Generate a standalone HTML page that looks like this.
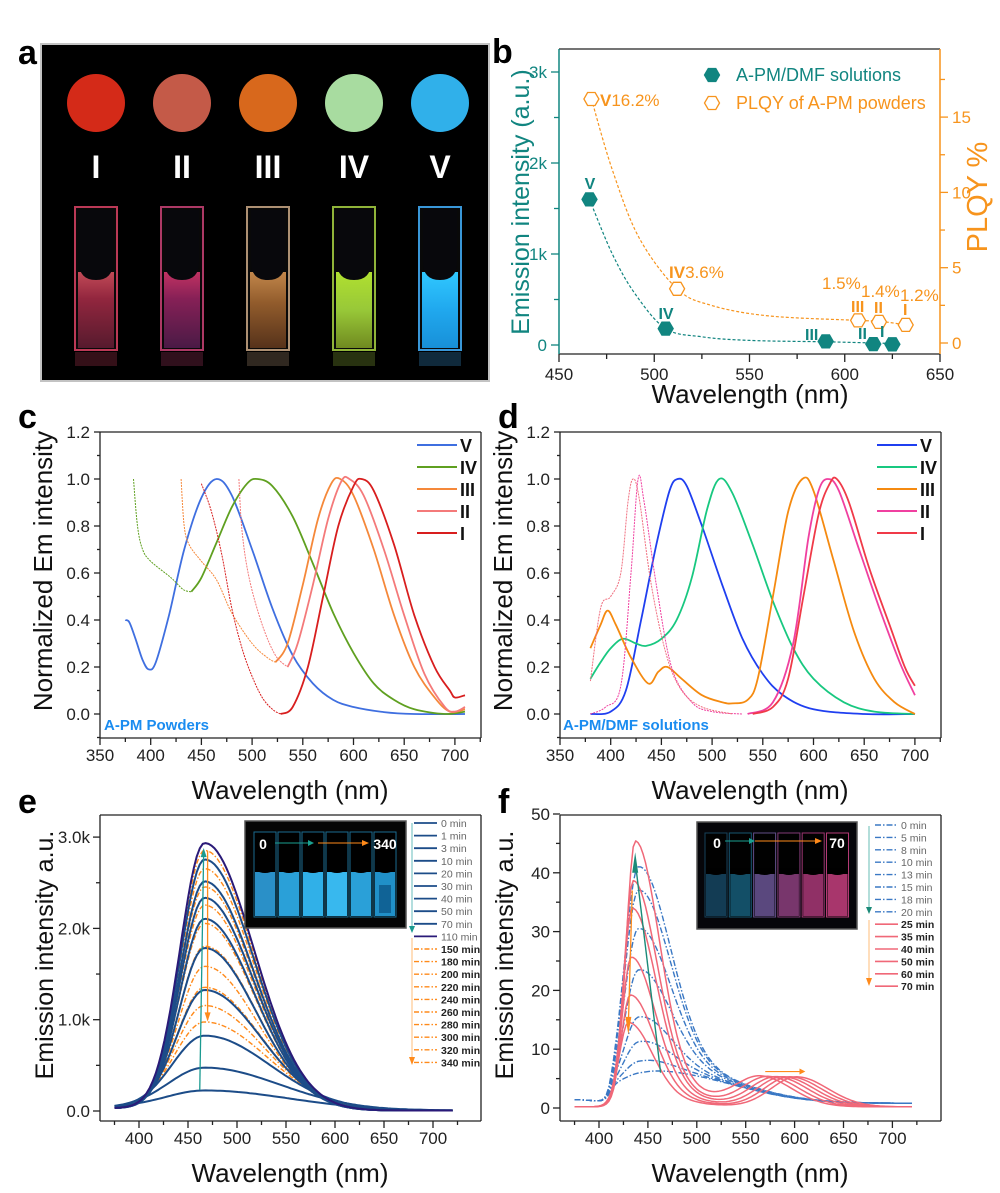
<!DOCTYPE html>
<html><head><meta charset="utf-8"><style>
html,body{margin:0;padding:0;background:#fff}
svg{display:block;font-family:"Liberation Sans",Arial,sans-serif}
</style></head><body>
<svg id="s" width="1000" height="1193" viewBox="0 0 1000 1193" xmlns="http://www.w3.org/2000/svg">
<defs>
<linearGradient id="gI" x1="0" y1="0" x2="0" y2="1"><stop offset="0" stop-color="#ff6070"/><stop offset=".35" stop-color="#c03050"/><stop offset="1" stop-color="#70203a"/></linearGradient>
<linearGradient id="gII" x1="0" y1="0" x2="0" y2="1"><stop offset="0" stop-color="#ff4080"/><stop offset=".35" stop-color="#b02870"/><stop offset="1" stop-color="#60205a"/></linearGradient>
<linearGradient id="gIII" x1="0" y1="0" x2="0" y2="1"><stop offset="0" stop-color="#ffb060"/><stop offset=".4" stop-color="#c07838"/><stop offset="1" stop-color="#704020"/></linearGradient>
<linearGradient id="gIV" x1="0" y1="0" x2="0" y2="1"><stop offset="0" stop-color="#b0e030"/><stop offset=".5" stop-color="#98c838"/><stop offset="1" stop-color="#708a20"/></linearGradient>
<linearGradient id="gV" x1="0" y1="0" x2="0" y2="1"><stop offset="0" stop-color="#30c8ff"/><stop offset=".5" stop-color="#20a8ee"/><stop offset="1" stop-color="#1890d8"/></linearGradient>
</defs>
</svg>
<script>
const S=document.getElementById('s');let h='';
function sm(p){if(p.length<2)return'';let d='M'+p[0][0].toFixed(1)+','+p[0][1].toFixed(1);for(let i=0;i<p.length-1;i++){const p0=p[i-1]||p[i],p1=p[i],p2=p[i+1],p3=p[i+2]||p2;const c1=[p1[0]+(p2[0]-p0[0])/6,p1[1]+(p2[1]-p0[1])/6],c2=[p2[0]-(p3[0]-p1[0])/6,p2[1]-(p3[1]-p1[1])/6];d+='C'+c1[0].toFixed(1)+','+c1[1].toFixed(1)+' '+c2[0].toFixed(1)+','+c2[1].toFixed(1)+' '+p2[0].toFixed(1)+','+p2[1].toFixed(1);}return d;}
function pl(p){return 'M'+p.map(q=>q[0].toFixed(1)+','+q[1].toFixed(1)).join('L');}
function P(d,c,w,da,op){h+=`<path d="${d}" fill="none" stroke="${c}" stroke-width="${w}"${da?` stroke-dasharray="${da}"`:''}${op?` opacity="${op}"`:''} stroke-linejoin="round"/>`;}
function T(x,y,t,o){o=o||{};h+=`<text x="${x}" y="${y}" font-size="${o.s||16}" fill="${o.c||'#222'}"${o.a?` text-anchor="${o.a}"`:''}${o.b?' font-weight="bold"':''}${o.r?` transform="rotate(-90 ${x} ${y})"`:''}>${t}</text>`;}
function L(x1,y1,x2,y2,c,w){h+=`<line x1="${x1}" y1="${y1}" x2="${x2}" y2="${y2}" stroke="${c||'#222'}" stroke-width="${w||1.3}"/>`;}
function ag(x,c,sl,sr){const s=x<c?sl:sr;return Math.exp(-0.5*((x-c)/s)**2);}
[['a',18,64],['b',492,63],['c',18,428],['d',498,428],['e',18,813],['f',498,813]].forEach(a=>T(a[1],a[2],a[0],{s:34,b:1,c:'#000'}));
// ===== panel a
h+=`<rect x="40" y="43" width="450" height="339" fill="#888" opacity=".5"/><rect x="42" y="45" width="446" height="335" fill="#000"/>`;
const cc=[['#d42a18','url(#gI)','#d04060'],['#c45a48','url(#gII)','#c04070'],['#d8681c','url(#gIII)','#c0a080'],['#a8dca0','url(#gIV)','#a0c840'],['#30b0ea','url(#gV)','#40a8f0']];
const nm=['I','II','III','IV','V'];
cc.forEach((c,i)=>{const x=96+i*86;
h+=`<circle cx="${x}" cy="103" r="29" fill="${c[0]}"/>`;
T(x,178,nm[i],{s:32,b:1,c:'#fff',a:'middle'});
h+=`<rect x="${x-21}" y="207" width="42" height="143" fill="#0a0a0a" stroke="${c[2]}" stroke-width="2" opacity=".9"/>`;
h+=`<rect x="${x-18}" y="272" width="36" height="76" fill="${c[1]}" opacity="${i>2?1:.75}"/>`;
h+=`<path d="M${x-17},210 L${x-17},262 Q${x-17},280 ${x},280 Q${x+17},280 ${x+17},262 L${x+17},210Z" fill="#08080c"/>`;
h+=`<rect x="${x-21}" y="352" width="42" height="14" fill="${c[2]}" opacity=".25"/>`;});
// ===== panel b
{const X=v=>559+(v-450)*1.905,YL=v=>345-v*0.091,YR=v=>343-v*15.06,tl='#118580',or='#f7941d';
L(559,49,940,49,'#222');L(559,354,940,354,'#222');L(559,49,559,354,tl,1.5);L(940,49,940,354,or,1.5);
for(let v=450;v<=650;v+=25){const x=X(v);L(x,354,x,v%50?359:362);if(v%50==0)T(x,380,v,{s:17,a:'middle'});}
for(let v=0;v<=3000;v+=500){const y=YL(v);L(559,y,v%1000?554:551,y,tl);if(v%1000==0)T(547,y+6,v?v/1000+'k':'0',{s:17,a:'end',c:tl});}
for(let v=0;v<=17.5;v+=2.5){const y=YR(v);L(940,y,v%5?945:948,y,or);if(v%5==0)T(952,y+6,v,{s:17,c:or});}
T(529,202,'Emission intensity (a.u.)',{s:25,c:tl,r:1,a:'middle'});
T(987,197,'PLQY %',{s:29,c:or,r:1,a:'middle'});
T(750,403,'Wavelength (nm)',{s:26,a:'middle',c:'#111'});
P(sm([[466,1600],[478,1000],[490,560],[506,180],[525,90],[550,50],[590,35],[615,22],[625,18]].map(p=>[X(p[0]),YL(p[1])])),tl,1.2,'3,2');
P(sm([[467,16.2],[478,11.5],[492,7],[512,3.6],[530,2.5],[560,1.8],[607,1.5],[618,1.45],[632,1.2]].map(p=>[X(p[0]),YR(p[1])])),or,1.2,'3,2');
function hex(x,y,r,f,s){let p=[];for(let k=0;k<6;k++){const a=Math.PI/3*k;p.push((x+r*Math.cos(a)).toFixed(1)+','+(y+r*Math.sin(a)).toFixed(1));}h+=`<polygon points="${p.join(' ')}" fill="${f}" stroke="${s}" stroke-width="1.3"/>`;}
[[466,1600],[506,180],[590,40],[615,10],[625,8]].forEach(p=>hex(X(p[0]),YL(p[1]),7.5,tl,tl));
[[467,16.2],[512,3.6],[607,1.5],[618,1.4],[632,1.2]].forEach(p=>hex(X(p[0]),YR(p[1]),7.5,'#fff',or));
hex(712,75,7.5,tl,tl);hex(712,103,7.5,'#fff',or);
T(736,81,'A-PM/DMF solutions',{s:18,c:tl});T(736,109,'PLQY of A-PM powders',{s:18,c:or});
T(600,106,'<tspan font-weight="bold">V</tspan>16.2%',{s:17,c:or});
T(669,278,'<tspan font-weight="bold">IV</tspan>3.6%',{s:17,c:or});
T(822,289,'1.5%',{s:17,c:or});T(861,297,'1.4%',{s:17,c:or});T(900,301,'1.2%',{s:17,c:or});
T(851,312,'III',{s:16,b:1,c:or});T(874,313,'II',{s:16,b:1,c:or});T(903,315,'I',{s:16,b:1,c:or});
T(590,189,'V',{s:16,b:1,c:tl,a:'middle'});T(666,319,'IV',{s:16,b:1,c:tl,a:'middle'});
T(805,340,'III',{s:16,b:1,c:tl});T(858,339,'II',{s:16,b:1,c:tl});T(880,337,'I',{s:16,b:1,c:tl});}
function frameCD(x0,X){L(x0,432,x0+381,432);L(x0,738,x0+381,738);L(x0,432,x0,738);L(x0+381,432,x0+381,738);
for(let v=350;v<=725;v+=25){const x=X(v);if(x>x0+381)break;L(x,738,x,v%50?742:745);if(v%50==0)T(x,761,v,{s:17,a:'middle'});}
for(let v=-0.1;v<=1.21;v+=0.1){const y=714-v*235;const mj=Math.abs(Math.round(v*10)%2)==0;L(x0,y,mj?x0-6:x0-3,y);if(mj&&v>-0.05)T(x0-10,y+6,v.toFixed(1),{s:17,a:'end'});}
T(x0+190,799,'Wavelength (nm)',{s:26,a:'middle',c:'#111'});T(x0-48,571,'Normalized Em intensity',{s:26,r:1,a:'middle',c:'#111'});}
{const X=v=>100+(v-350)*1.014,Y=v=>714-v*235,m=a=>a.map(p=>[X(p[0]),Y(p[1])]);frameCD(100,X);
const cs={V:'#3f6fe0',IV:'#5fa020',III:'#f5883a',II:'#f47a7a',I:'#d81e1e'};
P(sm(m([[375,.40],[379,.39],[385,.32],[392,.23],[398,.19],[405,.22],[418,.42],[433,.7],[450,.92],[465,1],[480,.93],[500,.70],[520,.45],[540,.25],[560,.13],[580,.06],[600,.03],[630,.008],[660,0],[710,0]])),cs.V,1.8);
P(sm(m([[383,1],[387,.8],[392,.7],[400,.65],[420,.58],[432,.53],[440,.52]])),cs.IV,1,'2,1');
P(sm(m([[440,.52],[450,.58],[465,.73],[480,.88],[495,.98],[505,1],[520,.97],[540,.84],[560,.64],[580,.43],[600,.26],[620,.13],[640,.06],[660,.02],[690,0],[710,.01]])),cs.IV,1.8);
P(sm(m([[430,1],[433,.8],[438,.72],[450,.65],[465,.57],[480,.43],[500,.3],[515,.24],[523,.22]])),cs.III,1,'2,1');
P(sm(m([[523,.22],[535,.3],[550,.55],[565,.83],[578,.98],[587,1],[600,.93],[620,.7],[640,.42],[660,.2],[680,.07],[695,.01],[710,.02]])),cs.III,1.8);
P(sm(m([[487,1],[490,.78],[497,.58],[510,.38],[523,.25],[535,.2]])),cs.II,1,'2,1');
P(sm(m([[535,.2],[545,.3],[560,.55],[575,.83],[588,.99],[596,1],[610,.93],[630,.7],[650,.42],[670,.17],[690,.03],[700,.01],[710,.03]])),cs.II,1.8);
P(sm(m([[450,.98],[460,.86],[470,.68],[480,.45],[490,.28],[500,.16],[510,.07],[520,.02],[528,0]])),cs.I,1,'2,1');
P(sm(m([[528,0],[540,.03],[555,.2],[570,.5],[585,.8],[600,.97],[608,1],[620,.95],[640,.72],[660,.42],[680,.2],[695,.1],[700,.07],[710,.08]])),cs.I,1.8);
['V','IV','III','II','I'].forEach((k,i)=>{const y=445+i*22;L(417,y,457,y,cs[k],2);T(460,y+7,k,{s:18,b:1,c:'#111'});});
T(104,730,'A-PM Powders',{s:15,b:1,c:'#1a8cf0'});}
{const X=v=>560+(v-350)*1.014,Y=v=>714-v*235,m=a=>a.map(p=>[X(p[0]),Y(p[1])]);frameCD(560,X);
const cs={V:'#1f3ff0',IV:'#18c880',III:'#f58a10',II:'#f040a0',I:'#f03a48'};
P(sm(m([[380,0],[400,.01],[415,.1],[430,.4],[445,.72],[458,.95],[466,1],[475,.97],[490,.8],[510,.55],[530,.32],[550,.17],[570,.08],[600,.02],[650,0],[700,0]])),cs.V,1.8);
P(sm(m([[380,.15],[390,.22],[400,.28],[412,.32],[425,.3],[435,.29],[450,.32],[465,.4],[480,.58],[495,.87],[507,1],[520,.94],[540,.72],[560,.48],[580,.28],[600,.15],[630,.05],[660,.01],[700,0]])),cs.IV,1.8);
P(sm(m([[380,.28],[390,.38],[397,.44],[405,.38],[420,.24],[437,.13],[447,.18],[456,.2],[470,.15],[490,.08],[510,.05],[520,.045],[535,.06],[545,.15],[560,.5],[575,.86],[589,1],[600,.95],[620,.65],[640,.35],[660,.15],[680,.05],[700,0]])),cs.III,1.8);
P(sm(m([[380,0],[395,.03],[410,.12],[420,.6],[427,1],[433,.9],[445,.55],[460,.2],[480,.05],[500,.01],[530,0]])),cs.II,1,'2,1');
P(sm(m([[535,0],[560,.05],[580,.3],[595,.75],[605,.95],[614,1],[625,.95],[645,.7],[665,.45],[685,.22],[700,.08]])),cs.II,1.8);
P(sm(m([[380,.14],[390,.45],[400,.5],[410,.6],[417,.9],[422,1],[428,.92],[440,.55],[455,.25],[470,.1],[490,.03],[520,0]])),'#f07080',1,'2,1');
P(sm(m([[540,0],[560,.03],[575,.15],[590,.5],[605,.85],[616,.98],[623,1],[635,.9],[655,.62],[675,.38],[690,.2],[700,.12]])),cs.I,1.8);
['V','IV','III','II','I'].forEach((k,i)=>{const y=445+i*22;L(877,y,917,y,cs[k],2);T(920,y+7,k,{s:18,b:1,c:'#111'});});
T(563,730,'A-PM/DMF solutions',{s:15,b:1,c:'#1a8cf0'});}
function frameEF(x0,X){L(x0,815,x0+381,815);L(x0,1121,x0+381,1121);L(x0,815,x0,1121);L(x0+381,815,x0+381,1121);
for(let v=375;v<=725;v+=25){const x=X(v);L(x,1121,x,v%50?1125:1128);if(v%50==0&&v<=700)T(x,1144,v,{s:17,a:'middle'});}
T(x0+190,1182,'Wavelength (nm)',{s:26,a:'middle',c:'#111'});T(x0-47,955,'Emission intensity a.u.',{s:25,r:1,a:'middle',c:'#111'});}
{const X=v=>139+(v-400)*0.98,Y=v=>1111-v*0.0913;frameEF(100,X);
for(let v=0;v<=3000;v+=500){const y=Y(v);L(100,y,v%1000?96:93,y);if(v%1000==0)T(90,y+6,(v/1000).toFixed(1)+(v?'k':''),{s:17,a:'end'});}
function cur(A){const k=1+0.9*Math.pow(1-A/2930,3);let p=[];for(let x=375;x<=720;x+=3){let y=A*ag(x,467,25*k,50*k)+25*ag(x,375,1,30)+5;p.push([X(x),Y(y)]);}return pl(p);}
const or=[2850,2650,2450,2250,2050,1800,1580,1350,1150,970];
or.forEach(a=>P(cur(a),'#ff8a1a',1.4,'5,2,1.5,2'));
[220,470,820,1320,1780,2100,2330,2510,2750].forEach(a=>P(cur(a),'#1c4c88',2));
P(cur(2930),'#2a1a78',2);
h+=`<line x1="${X(462)}" y1="${Y(230)}" x2="${X(466)}" y2="${Y(2850)}" stroke="#1a9a90" stroke-width="1.3"/><path d="M${X(466)-3},${Y(2780)}L${X(466)},${Y(2880)}L${X(466)+3},${Y(2780)}Z" fill="#1a9a90"/>`;
h+=`<line x1="${X(470)}" y1="${Y(2850)}" x2="${X(470)}" y2="${Y(1000)}" stroke="#ff8a1a" stroke-width="1.3"/><path d="M${X(470)-3},${Y(1080)}L${X(470)},${Y(980)}L${X(470)+3},${Y(1080)}Z" fill="#ff8a1a"/>`;
h+=`<rect x="245" y="821" width="161" height="107" fill="#050505" stroke="#555" stroke-width="1.5"/>`;
for(let i=0;i<6;i++){const x=254+i*24;h+=`<rect x="${x}" y="832" width="22" height="85" fill="#000" stroke="#1a6a90" stroke-width="1"/><rect x="${x+1}" y="872" width="20" height="44" fill="${['#2a90c8','#2aa0d8','#30b0e8','#38b8ee','#2aa0d8','#2090c8'][i]}"/><path d="M${x+1},866 L${x+1},870 Q${x+11},876 ${x+21},870 L${x+21},866Z" fill="#000"/>`;}
h+=`<rect x="${254+5*24+5}" y="885" width="12" height="28" fill="#0a5080" opacity=".7"/>`;
T(263,849,'0',{s:14,b:1,c:'#fff',a:'middle'});T(385,849,'340',{s:14,b:1,c:'#fff',a:'middle'});
L(275,843,312,843,'#1aa090',1);L(318,843,365,843,'#ff8a1a',1);
h+=`<path d="M308,840L314,843L308,846Z" fill="#1aa090"/><path d="M362,840L369,843L362,846Z" fill="#ff8a1a"/>`;
const lab=['0','1','3','10','20','30','40','50','70','110','150','180','200','220','240','260','280','300','320','340'];
lab.forEach((t,i)=>{const y=823+i*12.6;if(i<9)L(414,y,437,y,'#1c4c88',1.8);else if(i==9)L(414,y,437,y,'#2a1a78',1.8);else P(`M414,${y}L437,${y}`,'#ff8a1a',1.4,'5,2,1.5,2');T(441,y+4,t+' min',{s:10.5,c:i<10?'#666':'#222',b:i>=10});});
L(412,823,412,930,'#80c8c8',1.2);h+=`<path d="M409,926L412,933L415,926Z" fill="#1a9a90"/>`;
L(412,938,412,1063,'#ffc890',1.2);h+=`<path d="M409,1057L412,1065L415,1057Z" fill="#ff8a1a"/>`;}
{const X=v=>599+(v-400)*0.978,Y=v=>1108-v*5.88;frameEF(560,X);
for(let v=0;v<=50;v+=5){const y=Y(v);L(560,y,v%10?556:553,y);if(v%10==0)T(550,y+6,v,{s:17,a:'end'});}
const sg=x=>1/(1+Math.exp(-(x-411)/3));
[5.5,7.5,10.8,15,23,30,36.5,40.5].forEach(H=>{const B=Math.min(4.8+H*0.03,6),A=H-B*0.8-0.8;let p=[];for(let x=375;x<=720;x+=2.5){let y=0.8+0.6*ag(x,375,1,25)+sg(x)*(A*ag(x,440,13,32)+B*ag(x,470,60,70));p.push([X(x),Y(y)]);}P(pl(p),'#3a78c4',1.4,'6,2,1.5,2');});
const pk=[[43.5,437,565],[37,435,573],[32.5,434,581],[24.5,433,588],[18.3,432,595],[13.8,430,602]];
pk.forEach(q=>{let p=[];for(let x=375;x<=720;x+=2.5){let y=0.2+q[0]*0.9*ag(x,q[1],9,24)+q[0]*0.14*ag(x,q[1],12,48)+5.1*ag(x,q[2],26,32);p.push([X(x),Y(y)]);}P(pl(p),'#f06878',1.5);});
h+=`<line x1="${X(463)}" y1="${Y(6)}" x2="${X(437)}" y2="${Y(42)}" stroke="#1a8a78" stroke-width="1.4"/><path d="M${X(437)-3},${Y(40)}L${X(437)},${Y(43.5)}L${X(437)+3},${Y(40)}Z" fill="#1a8a78"/>`;
h+=`<line x1="${X(434)}" y1="${Y(37)}" x2="${X(430)}" y2="${Y(14)}" stroke="#ff8a1a" stroke-width="1.3"/><path d="M${X(430)-3},${Y(15.5)}L${X(430)},${Y(12.5)}L${X(430)+3},${Y(15.5)}Z" fill="#ff8a1a"/>`;
L(X(570),Y(6.2),X(605),Y(6.2),'#ff8a1a',1.2);h+=`<path d="M${X(605)},${Y(6.2)-3}L${X(611)},${Y(6.2)}L${X(605)},${Y(6.2)+3}Z" fill="#ff8a1a"/>`;
h+=`<rect x="697" y="822" width="160" height="107" fill="#06060a" stroke="#555" stroke-width="1.5"/>`;
const fc=['#1a5070','#1a6a8a','#7860a8','#a04890','#c04088','#e04890'];
for(let i=0;i<6;i++){const x=705+i*24.3;h+=`<rect x="${x}" y="833" width="22" height="84" fill="#000" stroke="${fc[i]}" stroke-width="1" opacity=".8"/><rect x="${x+1}" y="874" width="20" height="42" fill="${fc[i]}" opacity=".75"/><path d="M${x+1},868 L${x+1},872 Q${x+11},878 ${x+21},872 L${x+21},868Z" fill="#000"/>`;}
T(717,848,'0',{s:14,b:1,c:'#fff',a:'middle'});T(837,848,'70',{s:14,b:1,c:'#fff',a:'middle'});
L(725,841,752,841,'#1aa090',1);L(755,841,818,841,'#ff8a1a',1);
h+=`<path d="M749,838L755,841L749,844Z" fill="#1aa090"/><path d="M815,838L822,841L815,844Z" fill="#ff8a1a"/>`;
const lf=['0','5','8','10','13','15','18','20','25','35','40','50','60','70'];
lf.forEach((t,i)=>{const y=825+i*12.4;if(i<8)P(`M875,${y}L898,${y}`,'#3a78c4',1.4,'6,2,1.5,2');else L(875,y,898,y,'#f06878',1.6);T(901,y+4,t+' min',{s:10.5,c:i<8?'#666':'#222',b:i>=8});});
L(869,826,869,911,'#80c8c0',1.2);h+=`<path d="M866,907L869,914L872,907Z" fill="#1a8a78"/>`;
L(869,920,869,983,'#ffc890',1.2);h+=`<path d="M866,978L869,986L872,978Z" fill="#ff8a1a"/>`;}
S.insertAdjacentHTML('beforeend',h);
</script>
</body></html>
